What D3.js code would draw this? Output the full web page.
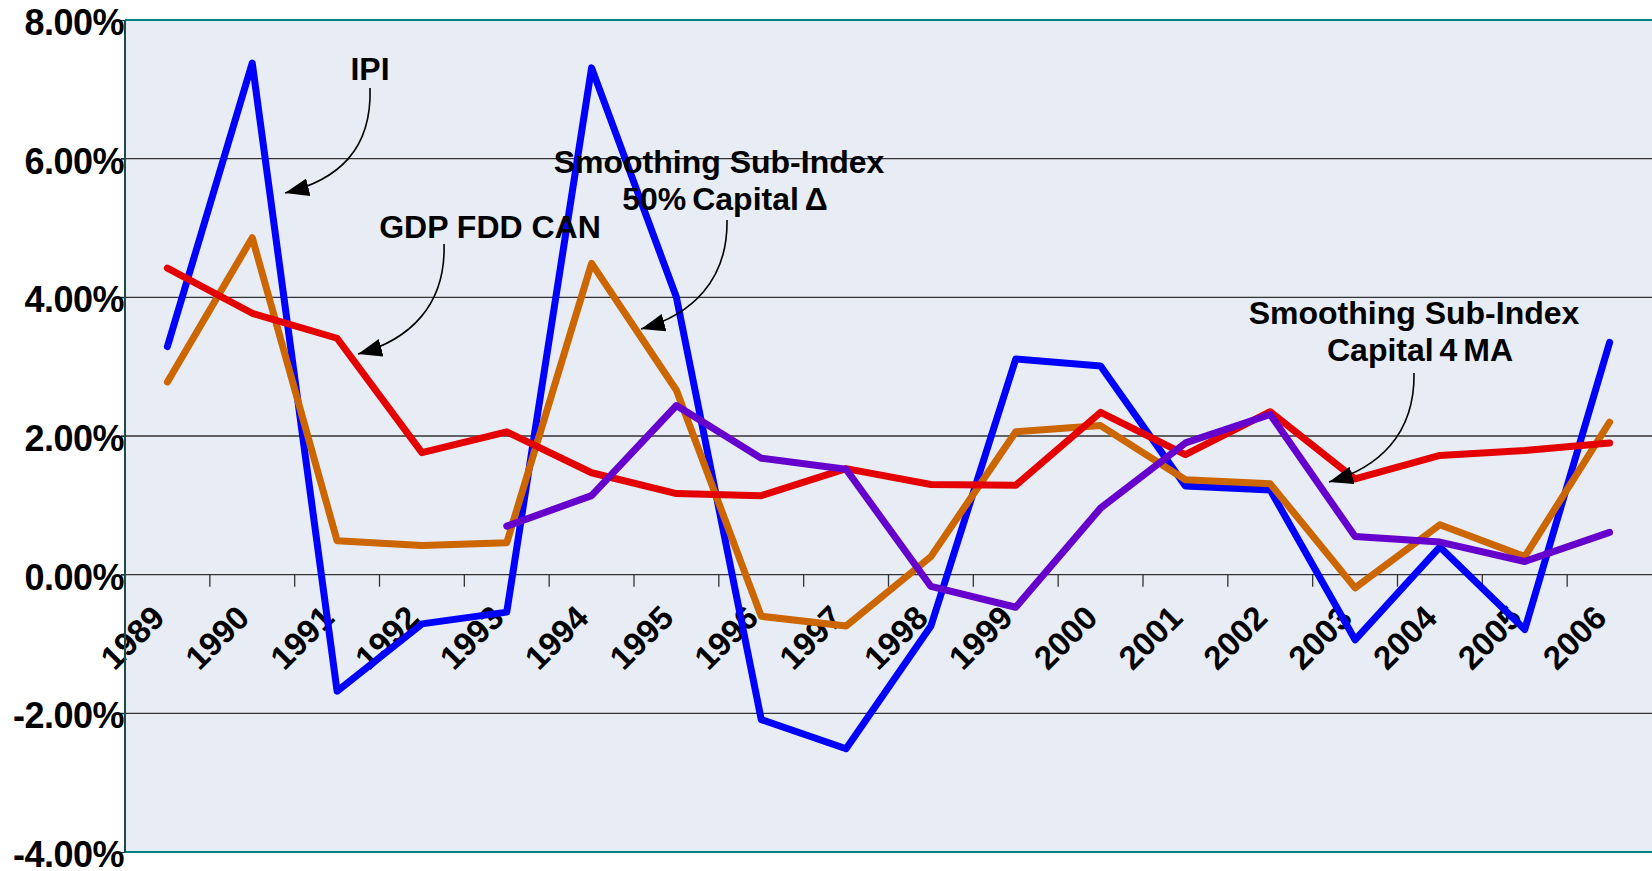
<!DOCTYPE html>
<meta charset="utf-8">
<script src="https://d3js.org/d3.v7.min.js"></script>
<style>
  body { margin: 0; background: #fff; }
  text { font-family: "Liberation Sans", Arial, sans-serif; font-weight: bold; fill: #000; }
</style>
<div id="chart"></div>
<script>
// Years on the category axis
var years = ["1989","1990","1991","1992","1993","1994","1995","1996","1997",
             "1998","1999","2000","2001","2002","2003","2004","2005","2006"];

// Series values, in percent
var ipi      = [3.29, 7.38, -1.68, -0.71, -0.54, 7.31, 4.00, -2.09, -2.51,
                -0.74, 3.11, 3.01, 1.28, 1.22, -0.94, 0.40, -0.79, 3.35];
var gdpFdd   = [4.42, 3.77, 3.41, 1.76, 2.06, 1.47, 1.17, 1.14, 1.53,
                1.30, 1.29, 2.34, 1.73, 2.35, 1.38, 1.72, 1.79, 1.90];
var smooth50 = [2.78, 4.86, 0.49, 0.42, 0.46, 4.49, 2.66, -0.60, -0.74,
                0.26, 2.06, 2.15, 1.37, 1.31, -0.19, 0.72, 0.26, 2.20];
var smooth4ma = [null, null, null, null, 0.70, 1.14, 2.44, 1.68, 1.52,
                -0.17, -0.47, 0.96, 1.90, 2.31, 0.55, 0.47, 0.19, 0.61];

var yTicks = [-4, -2, 0, 2, 4, 6, 8];

var W = 1652, H = 871;
var plot = {left: 125, right: 1652, top: 20, bottom: 852};

var svg = d3.select("#chart").append("svg")
  .attr("width", W).attr("height", H);

var defs = svg.append("defs");
defs.append("marker")
  .attr("id", "arrow")
  .attr("markerUnits", "userSpaceOnUse")
  .attr("viewBox", "0 0 24 18")
  .attr("refX", 24).attr("refY", 9)
  .attr("markerWidth", 24).attr("markerHeight", 18)
  .attr("orient", "auto")
  .append("path").attr("d", "M0,0 L24,9 L0,18 Z").attr("fill", "#000");

var x = d3.scaleBand().domain(years).range([plot.left, plot.right]);
var y = d3.scaleLinear().domain([-4, 8]).range([plot.bottom, plot.top]);

// plot background
svg.append("rect")
  .attr("x", plot.left).attr("y", plot.top)
  .attr("width", plot.right - plot.left).attr("height", plot.bottom - plot.top)
  .attr("fill", "#e8ecf4");

// horizontal gridlines
svg.append("g").selectAll("line")
  .data(yTicks.filter(function(d) { return d > -4 && d < 8; }))
  .enter().append("line")
    .attr("x1", plot.left - 4).attr("x2", plot.right)
    .attr("y1", function(d) { return y(d); })
    .attr("y2", function(d) { return y(d); })
    .attr("stroke", "#333").attr("stroke-width", 1.3);

// y axis labels
var yAxis = svg.append("g")
  .attr("transform", "translate(" + plot.left + ",0)")
  .call(d3.axisLeft(y).tickValues(yTicks).tickSize(4)
        .tickFormat(function(d) { return d.toFixed(2) + "%"; }));
yAxis.select(".domain").remove();
yAxis.selectAll(".tick line").attr("stroke", "#333");
yAxis.selectAll(".tick text")
  .attr("x", -1).attr("y", 14.5).attr("dy", null)
  .style("font-size", "36px")
  .style("letter-spacing", "-0.5px")
  .attr("fill", "#000");

// category tick marks hanging below the zero line
svg.append("g").selectAll("line")
  .data(years.slice(1))
  .enter().append("line")
    .attr("x1", function(d) { return x(d); })
    .attr("x2", function(d) { return x(d); })
    .attr("y1", y(0)).attr("y2", y(0) + 12)
    .attr("stroke", "#333").attr("stroke-width", 1.3);

// rotated year labels
svg.append("g").selectAll("text")
  .data(years)
  .enter().append("text")
    .text(function(d) { return d; })
    .attr("text-anchor", "end")
    .attr("transform", function(d) {
      return "translate(" + (x(d) + x.bandwidth() / 2 - 1) + "," + (y(0) + 45) + ")rotate(-45)";
    })
    .style("font-size", "33px");

// series lines
var series = [
  {name: "IPI", values: ipi, color: "#0000ff"},
  {name: "Smoothing Sub-Index 50% Capital", values: smooth50, color: "#cc6600"},
  {name: "GDP FDD CAN", values: gdpFdd, color: "#e40000"},
  {name: "Smoothing Sub-Index Capital 4 MA", values: smooth4ma, color: "#6600cc"}
];

var line = d3.line()
  .defined(function(d) { return d.v != null; })
  .x(function(d) { return x(d.year) + x.bandwidth() / 2; })
  .y(function(d) { return y(d.v); });

svg.append("g").selectAll("path")
  .data(series)
  .enter().append("path")
    .attr("d", function(s) {
      return line(years.map(function(yr, i) { return {year: yr, v: s.values[i]}; }));
    })
    .attr("fill", "none")
    .attr("stroke", function(s) { return s.color; })
    .attr("stroke-width", 7)
    .attr("stroke-linejoin", "round")
    .attr("stroke-linecap", "round");

// frame
svg.append("line")
  .attr("x1", plot.left).attr("x2", plot.right)
  .attr("y1", plot.top).attr("y2", plot.top)
  .attr("stroke", "#008080").attr("stroke-width", 2);
svg.append("line")
  .attr("x1", plot.left).attr("x2", plot.right)
  .attr("y1", plot.bottom).attr("y2", plot.bottom)
  .attr("stroke", "#008080").attr("stroke-width", 2);
svg.append("line")
  .attr("x1", plot.left).attr("x2", plot.left)
  .attr("y1", plot.top).attr("y2", plot.bottom)
  .attr("stroke", "#1d4a4a").attr("stroke-width", 2);

// annotations with curved arrows
var arrows = [
  "M370,88 C372,150 338,180 285,193",
  "M444,244 C446,305 410,340 358,354",
  "M727,220 C728,280 692,315 641,329",
  "M1414,373 C1415,435 1378,468 1329,482"
];
svg.append("g").selectAll("path")
  .data(arrows)
  .enter().append("path")
    .attr("d", function(d) { return d; })
    .attr("fill", "none")
    .attr("stroke", "#000")
    .attr("stroke-width", 1.6)
    .attr("marker-end", "url(#arrow)");

var notes = [
  {lines: ["IPI"], x: 370, y: 80},
  {lines: ["GDP FDD CAN"], x: 490, y: 238},
  {lines: ["Smoothing Sub-Index", "50% Capital \u0394"], x: 719, y: 173},
  {lines: ["Smoothing Sub-Index", "Capital 4 MA"], x: 1414, y: 324}
];
var noteG = svg.append("g");
notes.forEach(function(n) {
  var t = noteG.append("text")
    .attr("text-anchor", "middle")
    .style("font-size", "32px");
  n.lines.forEach(function(l, i) {
    t.append("tspan")
      .attr("x", n.x + (i > 0 ? 6 : 0))
      .attr("y", n.y + i * 37)
      .style("word-spacing", i > 0 ? "-3px" : null)
      .text(l);
  });
});
</script>
